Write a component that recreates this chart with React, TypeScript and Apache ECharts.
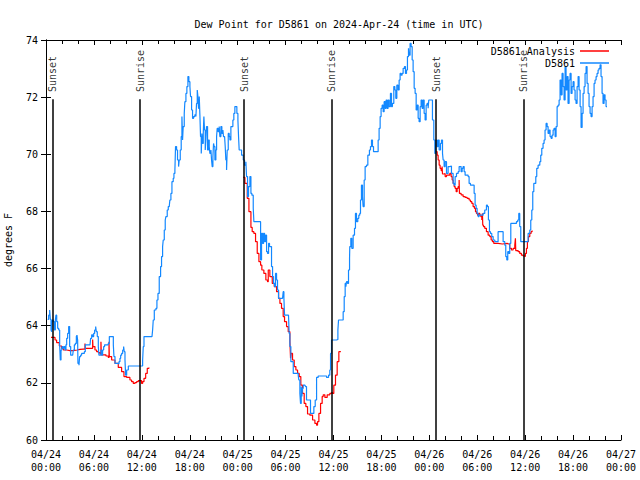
import { useEffect, useRef } from "react";
import * as echarts from "echarts";

// Hours since 2024-04-24 00:00 UTC, dew point (F)
const blueNight1: [number, number][] = [
  [0.21,64.22],[0.33,64.37],[0.46,64.55],[0.54,64.22],[0.63,63.85],[0.71,63.79],[0.79,64.2],[0.92,64.14],[1.04,63.85],[1.17,64.2],[1.25,64.37],[1.34,64.14],[1.46,63.91],[1.59,63.85],[1.71,63.33],[1.79,62.8],[1.88,63.15],[2.0,63.27],[2.13,63.21],[2.25,63.27],[2.38,63.15],[2.5,63.33],[2.59,63.56],[2.71,63.73],[2.84,63.97],[2.92,63.97],[2.96,63.27],[3.09,62.97],[3.34,62.97],[3.42,63.15],[3.55,63.33],[3.67,63.38],[3.8,63.62],[3.88,63.67],[3.96,63.5],[4.0,62.68],[4.13,62.62],[4.21,62.92],[4.34,62.97],[4.46,63.03],[4.67,63.03],[4.8,63.09],[4.92,63.33],[5.51,63.33],[5.59,63.56],[5.72,63.68],[5.84,63.62],[5.97,63.73],[6.09,63.85],[6.22,63.97],[6.3,63.79],[6.42,63.62],[6.55,63.27],[6.63,62.97],[6.76,62.97],[6.88,63.15],[6.97,62.97],[7.09,63.15],[7.22,63.27],[7.34,63.33],[7.8,63.38],[7.93,63.62],[8.3,63.62],[8.43,63.33],[8.51,62.92],[8.64,62.68],[9.05,62.66],[9.14,62.74],[9.26,62.86],[9.35,62.97],[9.47,63.03],[9.6,63.15],[9.72,63.27],[9.8,63.09],[9.89,62.8],[9.97,62.27],[10.1,62.45],[10.31,62.59],[11.97,62.59],[12.1,62.8],[12.18,63.27],[12.27,63.62],[13.27,63.62],[13.35,63.85],[13.43,64.2],[13.56,64.55],[13.77,64.61],[13.89,64.9],[14.02,65.13]
];
const blueDay1: [number, number][] = [
  [14.18,65.72],[14.35,66.07],[14.47,66.42],[14.6,66.77],[14.68,67.0],[14.81,67.35],[14.93,67.7],[15.01,67.82],[15.18,68.05],[15.31,68.17],[15.43,68.17],[15.51,68.4],[15.64,68.63],[15.77,69.04],[15.93,69.16],[16.02,69.33],[16.14,69.45],[16.22,70.27],[16.35,70.15],[16.47,69.8],[16.6,69.57],[16.68,69.8],[16.81,70.15],[16.93,70.62],[17.02,71.32],[17.1,70.5],[17.18,70.97],[17.31,71.43],[17.39,71.84],[17.52,72.13],[17.64,72.37],[17.77,72.72],[17.89,72.54],[18.02,72.37],[18.1,72.02],[18.23,71.55],[18.35,71.26],[18.48,71.32],[18.64,71.38],[18.77,71.32],[18.85,71.78],[18.94,72.25],[19.02,72.02],[19.1,71.61],[19.19,72.02],[19.27,71.38],[19.35,70.62],[19.44,70.03],[19.52,70.73],[19.6,70.38],[19.69,70.73],[19.77,71.32],[19.85,70.85],[19.94,70.15],[20.02,70.5],[20.1,70.97],[20.23,70.15],[20.35,70.5],[20.44,70.27],[20.52,70.03],[20.65,70.15],[20.73,69.8],[20.81,69.57],[20.9,69.92],[20.98,70.38],[21.06,70.27],[21.15,69.8],[21.27,70.15],[21.36,70.62],[21.44,70.91],[21.56,70.79],[21.69,70.97],[21.77,70.62],[21.9,70.97],[22.02,70.73],[22.15,70.85],[22.23,70.62],[22.36,70.62],[22.44,70.27],[22.52,69.8],[22.61,69.45],[22.69,70.15],[22.82,70.73],[22.94,70.62],[23.03,70.5],[23.15,70.97],[23.28,70.97],[23.4,71.2],[23.52,71.43],[23.65,71.67],[23.78,71.67],[23.9,71.43],[24.03,71.2],[24.11,70.62],[24.19,70.15]
];
const blueNight2: [number, number][] = [
  [24.28,70.15],[24.49,69.97],[24.7,69.8],[24.86,69.62],[25.03,69.74],[25.11,69.22],[25.24,68.52],[25.36,68.87],[25.53,69.22],[25.66,68.63],[25.78,68.57],[25.95,68.11],[26.03,67.64],[26.78,67.64],[26.87,66.3],[26.99,67.23],[27.12,66.88],[27.24,67.23],[27.37,66.94],[27.49,67.17],[27.62,66.59],[27.74,66.53],[27.87,66.88],[27.99,66.77],[28.12,66.77],[28.24,66.07],[28.37,65.72],[28.49,65.48],[28.62,65.37],[28.74,65.83],[28.87,65.6],[28.99,65.25],[29.12,64.96],[29.62,64.96],[29.7,65.19],[29.79,64.96],[29.87,64.37],[30.37,64.32],[30.45,63.73],[30.54,63.27],[30.66,62.74],[30.96,62.33],[31.58,62.27],[31.66,62.1],[31.79,61.63],[31.87,61.28],[31.96,61.87],[32.04,61.52],[32.12,61.81],[32.21,61.92],[32.42,61.92],[32.5,61.87],[32.62,61.4],[33.12,60.93],[33.37,60.93],[33.54,61.17],[33.71,61.4],[33.88,62.19],[34.08,62.24],[35.13,62.19],[35.38,62.27],[35.54,62.45],[35.63,63.03],[35.75,63.5],[36.38,63.52],[36.55,63.85],[36.63,64.2],[37.21,64.49],[37.34,65.02],[37.46,65.48],[37.55,65.37],[37.63,65.54],[37.76,65.48],[37.88,65.95],[38.01,66.36]
];
const blueDay2: [number, number][] = [
  [38.04,66.77],[38.17,67.06],[38.29,66.71],[38.46,67.17],[38.63,67.41],[38.75,67.93],[38.88,67.64],[39.04,67.76],[39.17,67.87],[39.29,67.93],[39.38,68.4],[39.5,68.92],[39.63,68.52],[39.71,68.17],[39.84,69.1],[39.96,69.57],[40.13,69.62],[40.3,69.97],[40.5,70.15],[40.63,70.27],[40.76,70.5],[40.88,70.27],[41.01,70.09],[41.46,70.09],[41.59,70.5],[41.71,70.91],[41.84,71.32],[41.96,71.61],[42.09,71.72],[42.22,71.49],[42.34,71.84],[42.47,71.61],[42.59,71.9],[42.72,71.61],[42.84,71.9],[42.97,71.67],[43.13,72.13],[43.26,71.67],[43.38,71.78],[43.55,72.37],[43.68,72.25],[43.8,71.96],[43.93,72.42],[44.09,72.25],[44.22,72.6],[44.34,72.83],[44.47,72.77],[44.59,72.83],[44.72,73.01],[44.89,73.07],[45.01,72.83],[45.14,72.95],[45.26,73.42],[45.39,73.71],[45.47,73.47],[45.59,73.88],[45.72,73.77],[45.85,73.3],[45.97,72.89],[46.1,72.31],[46.22,72.13],[46.35,71.55],[46.47,71.72],[46.6,71.26],[46.72,71.14],[46.85,71.67],[46.97,71.9],[47.1,71.61],[47.22,71.9],[47.35,71.43],[47.47,71.2],[47.6,71.72],[47.72,71.78],[47.85,71.61],[47.93,71.9]
];
const blueDay3: [number, number][] = [
  [48.06,71.9],[48.27,71.9],[48.39,71.2],[48.56,70.5],[48.69,70.03],[48.81,70.5],[48.98,70.27],[49.1,70.5],[49.23,70.15],[49.4,70.38],[49.52,70.5],[49.65,70.03],[49.73,69.8],[49.85,69.57],[49.98,69.74],[50.15,69.33],[50.35,69.57],[50.56,69.59],[50.77,69.33],[50.98,68.98],[51.11,68.92],[51.23,69.22],[51.4,69.33],[51.61,69.39],[51.73,69.57],[51.86,69.57],[51.98,69.39],[52.11,69.51],[52.23,69.57],[52.36,69.39],[52.48,69.27],[52.65,69.27],[52.86,69.22],[52.98,68.98],[53.15,68.92],[53.4,68.92],[53.61,68.63],[53.73,68.22],[53.86,68.11],[53.98,67.93],[54.11,67.82],[54.23,67.87],[54.48,67.87],[54.74,67.93],[54.94,68.05],[55.15,68.22],[55.28,68.17],[55.4,67.7],[55.53,67.29],[55.65,67.23],[55.82,67.12],[55.99,67.0],[56.2,66.94],[56.4,66.94],[56.61,67.29],[57.03,67.29],[57.24,66.94],[57.45,66.82],[57.57,66.42],[57.7,66.3],[57.82,66.59],[57.95,66.53],[58.07,66.88],[58.2,67.58],[58.41,67.58],[58.7,67.58],[58.91,67.64],[59.07,67.7],[59.2,67.93],[59.32,67.47],[59.45,66.94],[59.66,66.94],[59.95,66.94],[60.16,66.94],[60.37,67.23],[60.58,67.35],[60.7,67.7],[60.83,68.05],[60.95,68.69],[61.08,68.98],[61.2,68.98],[61.33,69.22],[61.45,69.51],[61.62,69.62],[61.83,69.74],[61.95,69.97],[62.08,70.21],[62.24,70.38],[62.37,70.5],[62.49,70.85],[62.62,71.08],[62.75,70.97],[62.87,70.73],[63.0,70.85],[63.12,70.62],[63.25,70.56],[63.37,70.67],[63.5,70.85],[63.62,70.91],[63.75,70.62],[63.87,70.97],[64.0,71.67],[64.12,71.72],[64.25,71.9],[64.37,72.6],[64.5,72.08],[64.62,72.83],[64.75,72.37],[64.87,71.9],[65.0,73.07],[65.12,72.25],[65.25,72.72],[65.37,71.78],[65.5,72.6],[65.62,72.83],[65.75,72.13],[65.87,72.37],[66.0,72.54],[66.12,72.25],[66.25,71.9],[66.37,71.78],[66.5,72.37],[66.63,72.72],[66.75,72.25],[66.88,71.67],[67.0,70.94],[67.13,71.43],[67.25,72.13],[67.38,72.37],[67.5,72.83],[67.63,73.07],[67.75,72.48],[67.88,72.13],[68.0,71.67],[68.13,71.43],[68.25,71.32],[68.38,71.67],[68.5,72.02],[68.63,72.48],[68.75,72.6],[68.88,72.72],[69.0,72.83],[69.13,72.95],[69.25,73.01],[69.38,73.13],[69.5,72.72],[69.63,72.13],[69.75,71.78],[69.88,72.08],[70.0,71.9],[70.13,71.67],[70.25,71.67]
];

const analysisNight1: [number, number][] = [
  [0.63,63.59],[0.92,63.59],[1.13,63.5],[1.33,63.41],[1.67,63.29],[1.96,63.21],[2.17,63.15],[2.59,63.13],[3.0,63.13],[3.42,63.15],[3.92,63.17],[4.26,63.18],[4.67,63.18],[4.88,63.38],[4.92,63.21],[5.3,63.21],[5.59,63.21],[5.84,63.52],[5.88,63.27],[6.13,63.15],[6.34,63.09],[6.55,63.06],[6.76,63.01],[6.88,63.44],[6.93,62.98],[7.18,62.98],[7.51,62.94],[7.8,62.89],[7.89,63.44],[7.93,62.92],[8.22,62.8],[8.64,62.68],[9.05,62.54],[9.47,62.39],[9.76,62.22],[10.1,62.19],[10.51,62.1],[10.72,62.04],[10.93,61.98],[11.14,62.01],[11.35,62.04],[11.56,62.08],[11.77,62.08],[11.97,61.98],[12.1,62.04],[12.27,62.16],[12.48,62.33],[12.68,62.51],[12.89,62.54]
];
const analysisNight2: [number, number][] = [
  [24.7,69.19],[24.91,68.98],[25.2,68.46],[25.41,67.99],[25.66,67.44],[25.82,67.29],[26.03,67.23],[26.24,66.94],[26.45,66.53],[26.66,66.24],[26.87,66.12],[27.03,65.95],[27.28,65.83],[27.53,65.6],[27.74,65.54],[27.83,65.95],[28.03,65.72],[28.33,65.48],[28.58,65.37],[28.87,65.19],[29.12,64.96],[29.29,64.78],[29.49,64.61],[29.7,64.32],[29.87,64.14],[30.12,63.97],[30.33,63.79],[30.54,63.44],[30.62,62.86],[30.7,63.03],[30.87,62.8],[31.08,62.57],[31.29,62.45],[31.5,62.33],[31.71,62.22],[31.91,61.92],[32.12,61.63],[32.33,61.28],[32.54,61.17],[32.75,60.91],[33.04,60.87],[33.38,60.7],[33.67,60.58],[33.88,60.52],[34.0,60.64],[34.17,60.93],[34.38,61.28],[34.58,61.52],[34.71,61.58],[34.92,61.49],[35.21,61.58],[35.54,61.63],[35.75,61.66],[35.88,61.63],[36.04,61.92],[36.25,62.27],[36.46,62.74],[36.67,63.09],[36.92,63.07]
];
const analysisNight3: [number, number][] = [
  [48.81,70.09],[48.98,69.97],[49.1,69.8],[49.23,69.62],[49.35,69.51],[49.48,69.43],[49.6,69.57],[49.65,69.31],[49.85,69.33],[49.98,69.22],[50.15,69.27],[50.35,69.27],[50.56,69.33],[50.73,69.22],[50.86,69.1],[50.98,68.98],[51.11,68.87],[51.23,68.81],[51.36,68.69],[51.48,68.81],[51.61,68.87],[51.73,69.1],[51.77,68.63],[51.98,68.58],[52.23,68.52],[52.48,68.49],[52.73,68.46],[52.98,68.4],[53.15,68.34],[53.32,68.28],[53.48,68.17],[53.65,68.11],[53.78,67.99],[53.9,67.93],[54.03,67.87],[54.15,67.93],[54.32,67.87],[54.44,67.82],[54.57,67.7],[54.65,67.93],[54.69,67.52],[54.78,67.47],[54.94,67.41],[55.15,67.29],[55.36,67.17],[55.57,67.12],[55.74,67.0],[55.9,66.94],[56.07,66.88],[56.61,66.86],[57.15,66.88],[57.74,66.86],[57.95,66.86],[58.07,66.71],[58.28,66.65],[58.49,66.71],[58.7,66.82],[58.78,67.06],[58.82,66.63],[59.12,66.59],[59.32,66.53],[59.53,66.47],[59.74,66.44],[59.91,66.42],[60.03,66.53],[60.16,66.71],[60.28,66.94],[60.41,67.12],[60.58,67.23],[60.74,67.29],[60.87,67.33]
];

const sunHours = [0.79, 11.8, 24.82, 35.76, 48.85, 59.8];
const sunLabels = ["Sunset", "Sunrise", "Sunset", "Sunrise", "Sunset", "Sunrise"];

const xTickHours = [0, 6, 12, 18, 24, 30, 36, 42, 48, 54, 60, 66, 72];
const yTicks = [60, 62, 64, 66, 68, 70, 72, 74];

const FONT = "'DejaVu Sans Mono', monospace";
const BLUE = "#1388ff";
const RED = "#ff0000";
const ANALYSIS = "D5861 Analysis";
const STATION = "D5861";

function xLabel(v: number) {
  const day = 24 + Math.floor(v / 24);
  const hh = v % 24;
  return `04/${day}\n${String(hh).padStart(2, "0")}:00`;
}

export default function App() {
  const ref = useRef<HTMLDivElement>(null);
  useEffect(() => {
    document.body.style.margin = "0";
    const chart = echarts.init(ref.current!, null, { renderer: "svg" });
    const axisCommonX = {
      type: "value" as const,
      min: xTickHours[0],
      max: xTickHours[xTickHours.length - 1],
      interval: 6,
      splitLine: { show: false },
      axisLine: { show: true, lineStyle: { color: "#000", width: 1 } },
      axisTick: { show: true, inside: true, length: 5, lineStyle: { color: "#000" } },
      minorTick: { show: true, splitNumber: 3, length: 4, lineStyle: { color: "#000" } },
    };
    const axisCommonY = {
      type: "value" as const,
      min: yTicks[0],
      max: yTicks[yTicks.length - 1],
      interval: 2,
      splitLine: { show: false },
      axisLine: { show: true, lineStyle: { color: "#000", width: 1 } },
      axisTick: { show: true, inside: true, length: 5, lineStyle: { color: "#000" } },
    };
    const redSeries = [analysisNight1, analysisNight2, analysisNight3].map((d) => ({
      name: ANALYSIS,
      type: "line",
      data: d,
      step: "end",
      symbol: "none",
      showSymbol: false,
      lineStyle: { color: RED, width: 1.2 },
      itemStyle: { color: RED },
      silent: true,
    }));
    chart.setOption({
      animation: false,
      backgroundColor: "#fff",
      title: {
        text: "Dew Point for D5861 on 2024-Apr-24 (time in UTC)",
        left: 334,
        textAlign: "center",
        top: 14,
        textStyle: { fontFamily: FONT, fontSize: 10, fontWeight: "normal", color: "#000" },
      },
      legend: {
        data: [ANALYSIS, STATION],
        orient: "vertical",
        right: 26,
        top: 40,
        align: "right",
        icon: "rect",
        itemWidth: 29,
        itemHeight: 1.5,
        itemGap: 0,
        textStyle: { fontFamily: FONT, fontSize: 10, color: "#000", lineHeight: 12 },
      },
      grid: { left: 46, right: 19, top: 40, bottom: 40, containLabel: false, outerBoundsMode: "none" },
      xAxis: [
        {
          ...axisCommonX,
          position: "bottom",
          axisLabel: { formatter: xLabel, fontFamily: FONT, fontSize: 10, color: "#000", lineHeight: 13, margin: 8 },
        },
        { ...axisCommonX, position: "top", axisLabel: { show: false } },
      ],
      yAxis: [
        {
          ...axisCommonY,
          position: "left",
          name: "degrees F",
          nameLocation: "middle",
          nameGap: 33,
          nameRotate: 90,
          nameTextStyle: { fontFamily: FONT, fontSize: 10, color: "#000" },
          axisLabel: { fontFamily: FONT, fontSize: 10, color: "#000", margin: 8 },
        },
        { ...axisCommonY, position: "right", axisLabel: { show: false } },
      ],
      series: [
        {
          name: "sun",
          type: "scatter",
          symbolSize: 0,
          silent: true,
          data: sunHours.map((h, i) => ({ value: [h, 72.18], name: sunLabels[i] })),
          label: {
            show: true,
            position: "inside",
            rotate: 90,
            align: "left",
            verticalAlign: "middle",
            formatter: (p: any) => p.name,
            fontFamily: FONT,
            fontSize: 10,
            color: "#000",
          },
          markLine: {
            silent: true,
            symbol: ["none", "none"],
            label: { show: false },
            lineStyle: { color: "#000", width: 1.5, type: "solid" },
            data: sunHours.map((h) => [{ coord: [h, 60] }, { coord: [h, 71.93] }]),
          },
        },
        ...redSeries,
        {
          name: STATION,
          type: "line",
          data: [...blueNight1, ...blueDay1, ...blueNight2, ...blueDay2, ...blueDay3],
          step: "end",
          symbol: "none",
          showSymbol: false,
          lineStyle: { color: BLUE, width: 1.2 },
          itemStyle: { color: BLUE },
          silent: true,
        },
      ],
    });
    return () => chart.dispose();
  }, []);
  return <div ref={ref} style={{ width: 640, height: 480 }} />;
}
